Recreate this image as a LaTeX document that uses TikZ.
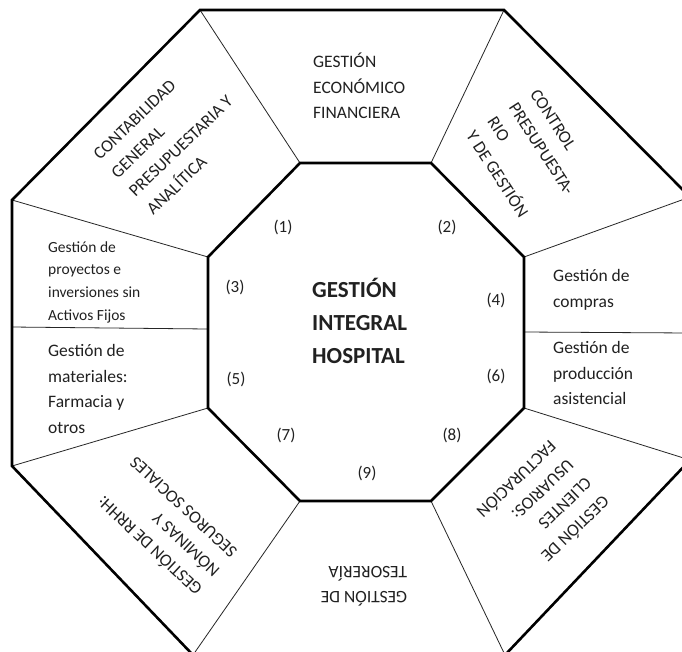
\documentclass[tikz,border=0pt]{standalone}
\usepackage{fontspec}
\setmainfont{Carlito}
\definecolor{ink}{rgb}{0.13,0.13,0.13}
\begin{document}
\begin{tikzpicture}[x=1pt,y=-1pt,
  ring/.style={line width=2.6pt, line join=miter, draw=black},
  divider/.style={line width=0.8pt, draw=black!85},
  body/.style={font=\fontsize{17.5}{25.5}\selectfont, inner sep=0pt, text=ink, align=left},
  smallbody/.style={font=\fontsize{15.5}{22.7}\selectfont, inner sep=0pt, text=ink, align=left},
  core/.style={font=\bfseries\fontsize{23}{33}\selectfont, inner sep=0pt, text=ink, align=left},
  num/.style={font=\fontsize{17}{20}\selectfont, inner sep=0pt, text=ink}]
\clip (0,0) rectangle (682,651);
\fill[white] (0,0) rectangle (682,651);

% outer octagon vertices
\coordinate (o1) at (200,10);
\coordinate (o2) at (504,10);
\coordinate (o3) at (690,197);
\coordinate (o4) at (690,460);
\coordinate (o5) at (505,655);
\coordinate (o6) at (193,655);
\coordinate (o7) at (12,466);
\coordinate (o8) at (12,200);
% inner octagon vertices
\coordinate (i1) at (300,163);
\coordinate (i2) at (431,163);
\coordinate (i3) at (524,257);
\coordinate (i4) at (524,408);
\coordinate (i5) at (431,501);
\coordinate (i6) at (300,501);
\coordinate (i7) at (208,408);
\coordinate (i8) at (208,257);
% ends of the two horizontal splits
\coordinate (ls) at (12,327);
\coordinate (lt) at (208,329);
\coordinate (rs) at (524,332);
\coordinate (rt) at (690,333);

% thin dividers between the sectors
\draw[divider] (i1) -- (o1);
\draw[divider] (i2) -- (o2);
\draw[divider] (i3) -- (o3);
\draw[divider] (i4) -- (o4);
\draw[divider] (i5) -- (o5);
\draw[divider] (i6) -- (o6);
\draw[divider] (i7) -- (o7);
\draw[divider] (i8) -- (o8);
\draw[divider] (ls) -- (lt);
\draw[divider] (rs) -- (rt);

% the two octagons
\draw[ring] (o1) -- (o2) -- (o3) -- (o4) -- (o5) -- (o6) -- (o7) -- (o8) -- cycle;
\draw[ring] (i1) -- (i2) -- (i3) -- (i4) -- (i5) -- (i6) -- (i7) -- (i8) -- cycle;

% centre
\node[core, anchor=west] (centre) at (312,321) {GESTIÓN\\INTEGRAL\\HOSPITAL};

% sector texts
\node[body, anchor=west] (econ) at (313,86) {GESTIÓN\\ECONÓMICO\\FINANCIERA};
\node[body, rotate=44] (conta) at (172,137) {CONTABILIDAD\\GENERAL\\PRESUPUESTARIA Y\\ANALÍTICA};
\node[body, rotate=-57] (control) at (531,156) {CONTROL\\PRESUPUESTA-\\RIO\\Y DE GESTIÓN};
\node[body, anchor=west] (compras) at (553,290) {Gestión de\\compras};
\node[body, anchor=west] (produccion) at (553,373) {Gestión de\\producción\\asistencial};
\node[body, rotate=224] (clientes) at (544,508) {GESTIÓN DE\\CLIENTES\\USUARIOS:\\FACTURACIÓN};
\node[body, rotate=180] (tesoreria) at (364,586) {GESTIÓN DE\\TESORERÍA};
\node[body, rotate=137] (rrhh) at (165,527) {GESTIÓN DE RRHH:\\NÓMINAS Y\\SEGUROS SOCIALES};
\node[body, anchor=west] (materiales) at (48,389) {Gestión de\\materiales:\\Farmacia y\\otros};
\node[smallbody, anchor=west] (proyectos) at (48,282) {Gestión de\\proyectos e\\inversiones sin\\Activos Fijos};

% sector numbers
\node[num] (n1) at (283,227) {(1)};
\node[num] (n2) at (447,227) {(2)};
\node[num] (n3) at (235,287) {(3)};
\node[num] (n4) at (496,300) {(4)};
\node[num] (n5) at (236,379) {(5)};
\node[num] (n6) at (496,376) {(6)};
\node[num] (n7) at (286,435) {(7)};
\node[num] (n8) at (452,435) {(8)};
\node[num] (n9) at (367,473) {(9)};
\end{tikzpicture}
\end{document}
